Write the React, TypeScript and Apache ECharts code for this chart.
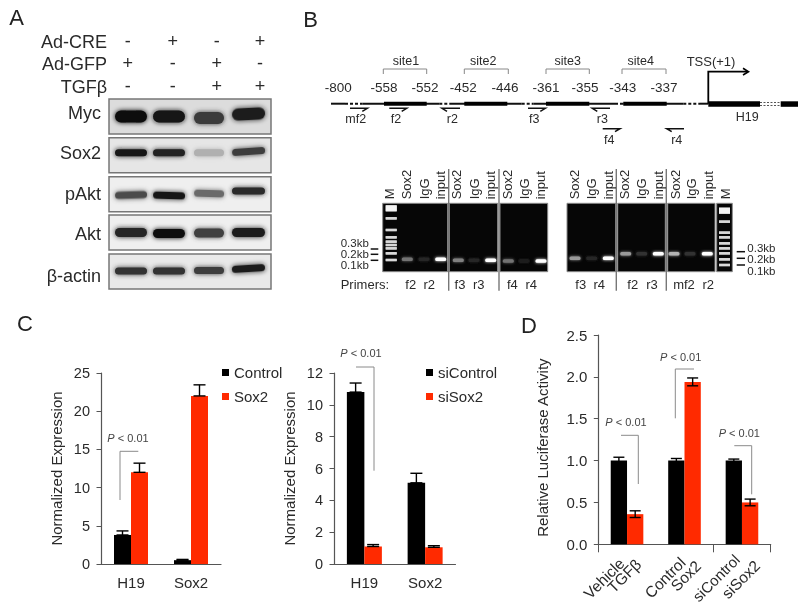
import React, { useEffect, useRef } from "react";
import * as echarts from "echarts";

const FONT = "'Liberation Sans', Arial, sans-serif";
const BLACK = "#000000";
const RED = "#ff2a00";
const AXIS = "#555555";
const TEXT = "#2a2a2a";

// ---- Panel C (left)
const cats = ["H19", "Sox2"];
const controlVals = [3.8, 0.5];
const controlHi = [4.33, 0.6];
const sox2Vals = [12, 22];
const sox2Hi = [13.2, 23.45];
// ---- Panel C (right)
const siControlVals = [10.8, 5.1];
const siControlHi = [11.37, 5.7];
const siSox2Vals = [1.1, 1.05];
const siSox2Hi = [1.22, 1.15];
// ---- Panel D
const dCats = ["Vehicle/TGFβ", "Control/Sox2", "siControl/siSox2"];
const dLabels = ["Vehicle", "TGFβ", "Control", "Sox2", "siControl", "siSox2"];
const dBaseVals = [1.0, 1.0, 1.0];
const dBaseErr = [0.04, 0.025, 0.018];
const dTreatVals = [0.36, 1.94, 0.5];
const dTreatErr = [0.04, 0.047, 0.04];

// ---- Panel A
const lanesLabels = ["Ad-CRE", "Ad-GFP", "TGFβ"];
const signs = [["-", "+", "-", "+"], ["+", "-", "+", "-"], ["-", "-", "+", "+"]];
const blotNames = ["Myc", "Sox2", "pAkt", "Akt", "β-actin"];
const blotShade = [
  ["#0c0c0c", "#141414", "#3a3a3a", "#1c1c1c"],
  ["#161616", "#222222", "#b0b0b0", "#3c3c3c"],
  ["#4c4c4c", "#141414", "#6a6a6a", "#2a2a2a"],
  ["#262626", "#101010", "#404040", "#1e1e1e"],
  ["#303030", "#303030", "#3c3c3c", "#1c1c1c"],
];

// ---- Panel B
const sites = ["site1", "site2", "site3", "site4"];
const posLabels = ["-800", "-558", "-552", "-452", "-446", "-361", "-355", "-343", "-337"];
const gelLanes = ["Sox2", "IgG", "input"];
const gelIntensity = [
  [0.45, 0.15, 1],
  [0.5, 0.15, 1],
  [0.45, 0.12, 1],
  [0.6, 0.15, 1],
  [0.6, 0.2, 1],
  [0.7, 0.2, 1],
];
const primerRow = ["f2", "r2", "f3", "r3", "f4", "r4", "f3", "r4", "f2", "r3", "mf2", "r2"];

const txt = (text: string, x: number, y: number, size: number, align = "center", extra: any = {}) => ({
  type: "text",
  silent: true,
  x,
  y,
  rotation: extra.rotation || 0,
  z: 20,
  style: {
    text,
    x: 0,
    y: 0,
    fontSize: size,
    fontFamily: FONT,
    fill: extra.fill || TEXT,
    align,
    verticalAlign: "middle",
    rich: extra.rich,
  },
});
const ln = (x1: number, y1: number, x2: number, y2: number, stroke: string, lineWidth: number, lineDash?: number[]) => ({
  type: "line",
  silent: true,
  z: 10,
  shape: { x1, y1, x2, y2 },
  style: { stroke, lineWidth, lineDash },
});
const poly = (points: number[][], stroke: string, lineWidth: number) => ({
  type: "polyline",
  silent: true,
  z: 10,
  shape: { points },
  style: { stroke, lineWidth, fill: "none" },
});
const box = (x: number, y: number, width: number, height: number, fill: string, extra: any = {}) => ({
  type: "rect",
  silent: true,
  z: extra.z || 5,
  rotation: extra.rotation || 0,
  originX: x + width / 2,
  originY: y + height / 2,
  shape: { x, y, width, height, r: extra.r || 0 },
  style: {
    fill,
    stroke: extra.stroke,
    lineWidth: extra.lineWidth,
    shadowBlur: extra.blur || 0,
    shadowColor: extra.blur ? fill : undefined,
  },
});
const pval = (x: number, y: number) =>
  txt("{i|P} < 0.01", x, y, 11, "center", {
    fill: "#444",
    rich: { i: { fontStyle: "italic", fontSize: 11, fontFamily: FONT, fill: "#444" } },
  });

function panelA(): any[] {
  const out: any[] = [];
  out.push(txt("A", 16.5, 17, 22, "center", { fill: "#222" }));
  const cols = [127.7, 172.7, 216.7, 260];
  const rowsY = [42, 64, 87];
  lanesLabels.forEach((l, i) => {
    out.push(txt(l, 107, rowsY[i], 18, "right"));
    signs[i].forEach((s, j) => out.push(txt(s, cols[j], rowsY[i] - 1, 18)));
  });
  const tops = [99, 137.7, 176.7, 215, 254];
  const labelY = [113, 152.7, 194, 234, 275.7];
  const bg = ["#dcdcdc", "#e6e6e6", "#efefef", "#efefef", "#e9e9e9"];
  const laneX = [[115, 32], [153, 32], [194, 30], [232, 33]];
  const bandY = [
    [116.5, 116.5, 118, 114],
    [152.7, 152.7, 152.7, 151.5],
    [195, 195.5, 193.5, 191],
    [232.5, 233.5, 233, 232.5],
    [271, 271, 270.5, 268.5],
  ];
  const bandH = [12, 7, 7, 9, 7];
  const tilt = [
    [0, 0, 0, 0.05],
    [0, 0, 0, 0.07],
    [0.03, -0.03, -0.03, 0],
    [0, 0, 0, 0],
    [0, 0, 0, 0.06],
  ];
  blotNames.forEach((n, i) => {
    out.push(txt(n, 101, labelY[i], 18, "right"));
    out.push(box(109, tops[i], 162, 35, bg[i], { stroke: "#777", lineWidth: 1.5, z: 4 }));
    laneX.forEach(([x, w], j) => {
      out.push(
        box(x, bandY[i][j] - bandH[i] / 2, w, bandH[i], blotShade[i][j], {
          r: bandH[i] / 2,
          blur: 5,
          rotation: tilt[i][j],
          z: 6,
        })
      );
    });
  });
  return out;
}

function panelB(): any[] {
  const out: any[] = [];
  out.push(txt("B", 310.5, 19, 22, "center", { fill: "#222" }));
  const Y = 103.7;
  const solid = [[331, 345], [362.7, 439.3], [450, 521.7], [533.3, 615], [623.3, 683.3], [700, 708.3]];
  const dotted = [[345, 362.7], [439.3, 450], [521.7, 533.3], [615, 623.3], [683.3, 700]];
  solid.forEach(([a, b]) => out.push(ln(a, Y, b, Y, "#111", 2)));
  dotted.forEach(([a, b]) => out.push(ln(a, Y, b, Y, "#111", 2, [3, 2])));
  const blocks = [[384, 426.7], [464.3, 507.3], [546, 589.3], [623.3, 666.7]];
  blocks.forEach(([a, b]) => out.push(box(a, Y - 2, b - a, 4, "#000", { z: 11 })));
  out.push(box(708.3, 101.3, 51.7, 5.5, "#000", { z: 11 }));
  out.push(box(780.7, 101.3, 17.3, 5.5, "#000", { z: 11 }));
  out.push(ln(760, 102.5, 780.7, 102.5, "#555", 1, [2, 1.5]));
  out.push(ln(760, 105.5, 780.7, 105.5, "#555", 1, [2, 1.5]));
  const bracket = [[383.3, 426.7], [464.3, 508.3], [546, 589.3], [622, 666]];
  const siteX = [406, 483.3, 567.7, 640.7];
  sites.forEach((s, i) => {
    const [a, b] = bracket[i];
    out.push(poly([[a, 74], [a, 69], [b, 69], [b, 74]], "#888", 1));
    out.push(txt(s, siteX[i], 61, 12.5));
  });
  const posX = [338.3, 384, 425, 463.3, 505, 546, 585, 622.7, 664];
  posLabels.forEach((p, i) => out.push(txt(p, posX[i], 87.3, 13.5)));
  out.push(txt("TSS(+1)", 711, 61.7, 13));
  out.push(poly([[708.3, Y], [708.3, 71.7], [747, 71.7]], "#000", 1.8));
  out.push(poly([[743, 68.3], [748.5, 71.7], [743, 75]], "#000", 1.6));
  out.push(txt("H19", 747.3, 117, 12.5));
  const primers: [string, number, number, number, number, number][] = [
    ["mf2", 350, 367.3, 108.3, 355.7, 118.7],
    ["f2", 389.3, 406.7, 108.3, 396, 118.7],
    ["r2", 460, 442, 108.3, 452.3, 118.7],
    ["f3", 528, 545.3, 108.3, 534.3, 118.7],
    ["r3", 610, 592.3, 108.3, 602.3, 118.7],
    ["f4", 602.7, 620, 128.7, 609.3, 140.3],
    ["r4", 684, 666.7, 128.7, 676.7, 140.3],
  ];
  primers.forEach(([n, a, b, y, lx, ly]) => {
    const d = b > a ? -5 : 5;
    out.push(poly([[a, y], [b, y], [b + d, y + 3]], "#111", 1.5));
    out.push(txt(n, lx, ly, 12.5));
  });

  // gels
  const gelTop = 203.3;
  const gelH = 68.4;
  const gels = [[382.7, 65], [449.3, 48.4], [500, 47.7], [567, 48.7], [617.7, 47.6], [667.7, 47.3], [716.7, 15.6]];
  gels.forEach(([x, w]) => out.push(box(x, gelTop, w, gelH, "#060606", { stroke: "#8a8a8a", lineWidth: 1, z: 4 })));
  [448.7, 499, 616.3, 666.3].forEach((x) => out.push(ln(x, 169, x, 290.7, "#777", 1.4)));
  const markerL = [175, 205, 240, 262, 275, 285, 295, 310, 330];
  const markerR = [182, 215, 248, 262, 280, 295, 310, 328, 345];
  markerL.forEach((y, i) => out.push(box(385.7, y / 3 + 150 - (i === 0 ? 3 : 1.2), 11, i === 0 ? 6 : 2.4, i === 0 ? "#f4f4f4" : "#d8d8d8", { z: 6, blur: 1.5 })));
  markerR.forEach((y, i) => out.push(box(719, y / 3 + 150 - (i === 0 ? 3 : 1.2), 11, i === 0 ? 6 : 2.4, i === 0 ? "#f4f4f4" : "#d8d8d8", { z: 6, blur: 1.5 })));
  const laneXs = [
    [407.3, 424, 440.7],
    [458.3, 474, 490.7],
    [508.3, 524, 541],
    [575, 591.7, 608.3],
    [625.7, 641.7, 658.3],
    [674, 690, 707.3],
  ];
  const bandYs = [259.3, 260.3, 261, 258.3, 253.7, 253.7];
  gelIntensity.forEach((g, i) =>
    g.forEach((v, j) => {
      const c = Math.round(v * 255);
      out.push(box(laneXs[i][j] - 5.5, bandYs[i] - 1.8, 11, 3.6, `rgb(${c},${c},${c})`, { z: 6, blur: 3, r: 1.5 }));
    })
  );
  const rotLabel = (t: string, x: number) => txt(t, x, 199.3, 13, "left", { rotation: Math.PI / 2 });
  out.push(rotLabel("M", 389));
  out.push(rotLabel("M", 725));
  const labelXs = [
    [406.7, 424, 440.7],
    [456.7, 474, 490.7],
    [507.3, 524, 540.7],
    [574, 591.7, 608.3],
    [624, 641.7, 658.3],
    [675, 691.7, 708.3],
  ];
  labelXs.forEach((row) => row.forEach((x, j) => out.push(rotLabel(gelLanes[j], x))));
  ["0.3kb", "0.2kb", "0.1kb"].forEach((t, i) => {
    out.push(txt(t, 340.7, [242.7, 254, 265.3][i], 11.5, "left"));
    out.push(ln(370.7, [249, 254.3, 260.3][i], 378.3, [249, 254.3, 260.3][i], "#111", 1.5));
    out.push(txt(t, 747.3, [247.7, 259.3, 271][i], 11.5, "left"));
    out.push(ln(736.7, [251.7, 258.3, 265][i], 745, [251.7, 258.3, 265][i], "#111", 1.5));
  });
  out.push(txt("Primers:", 340.7, 284, 13, "left"));
  const primerX = [410.7, 429.3, 460, 478.7, 512.3, 531.3, 580.7, 599.3, 632.7, 652, 684, 708.3];
  primerRow.forEach((p, i) => out.push(txt(p, primerX[i], 284, 13)));
  return out;
}

function panelsCD(): any[] {
  const gray = "#8a8a8a";
  const anchors = [
    [621.7, 560.7],
    [638.3, 561.7],
    [682.7, 560],
    [698.3, 563.3],
    [737, 557],
    [757.3, 563],
  ];
  return [
    txt("C", 25, 323, 22, "center", { fill: "#222" }),
    txt("D", 529, 325, 22, "center", { fill: "#222" }),
    poly([[120, 500], [120, 451.3], [138.3, 451.3]], gray, 1),
    pval(128, 438),
    poly([[356, 367], [374, 367], [374, 470.7]], gray, 1),
    pval(361, 353),
    poly([[621, 435.3], [638.3, 435.3], [638.3, 484]], gray, 1),
    pval(626, 422),
    poly([[694, 369], [675.3, 369], [675.3, 418.3]], gray, 1),
    pval(680.7, 356.7),
    poly([[734.3, 445.7], [751.7, 445.7], [751.7, 494.3]], gray, 1),
    pval(739.3, 432.7),
    ...dLabels.map((l, i) => txt(l, anchors[i][0], anchors[i][1], i === 4 ? 15 : 15.5, "right", { rotation: Math.PI / 4 })),
  ];
}

const errSeries = (gridIdx: number, data: number[][], barW: number, capW: number) => ({
  type: "custom",
  xAxisIndex: gridIdx,
  yAxisIndex: gridIdx,
  silent: true,
  z: 5,
  encode: { x: 0, y: [1, 2] },
  data,
  renderItem: (_p: any, api: any) => {
    const hi = api.coord([api.value(0), api.value(1)]);
    const lo = api.coord([api.value(0), api.value(2)]);
    const x = hi[0] + api.value(3) * (barW / 2);
    const style = { stroke: "#000", lineWidth: 1.4, fill: "none" };
    return {
      type: "group",
      children: [
        { type: "line", shape: { x1: x, y1: hi[1], x2: x, y2: lo[1] }, style },
        { type: "line", shape: { x1: x - capW / 2, y1: hi[1], x2: x + capW / 2, y2: hi[1] }, style },
        { type: "line", shape: { x1: x - capW / 2, y1: lo[1], x2: x + capW / 2, y2: lo[1] }, style },
      ],
    };
  },
});

const upErr = (vals: number[], hi: number[], side: number) => vals.map((v, i) => [i, hi[i], v, side]);
const bothErr = (vals: number[], e: number[], side: number) => vals.map((v, i) => [i, v + e[i], v - e[i], side]);

const xAxisBase = (gridIndex: number, data: string[]) => ({
  type: "category",
  gridIndex,
  data,
  axisLine: { show: true, lineStyle: { color: AXIS, width: 1.2 } },
  axisTick: { show: false },
  axisLabel: { color: TEXT, fontSize: 15, fontFamily: FONT, margin: 11, interval: 0 },
});
const yAxisBase = (gridIndex: number, max: number, interval: number, name: string, gap: number, size: number) => ({
  type: "value",
  gridIndex,
  min: 0,
  max,
  interval,
  name,
  nameLocation: "middle",
  nameGap: gap,
  nameTextStyle: { color: TEXT, fontSize: 15, fontFamily: FONT },
  axisLine: { show: true, lineStyle: { color: AXIS, width: 1.2 } },
  axisTick: { show: true, length: 4.5, lineStyle: { color: AXIS } },
  axisLabel: { color: TEXT, fontSize: size, fontFamily: FONT, margin: 11 },
  splitLine: { show: false },
});
const bar = (name: string, grid: number, data: number[], color: string, width: number) => ({
  type: "bar",
  name,
  xAxisIndex: grid,
  yAxisIndex: grid,
  data,
  barWidth: width,
  barGap: "0%",
  itemStyle: { color },
  silent: true,
});
const legend = (names: string[], left: number) => ({
  data: names,
  orient: "vertical",
  left,
  top: 365,
  itemWidth: 7,
  itemHeight: 7,
  itemGap: 9,
  icon: "rect",
  selectedMode: false,
  textStyle: { color: TEXT, fontSize: 15, fontFamily: FONT },
  padding: 0,
});

export default function App() {
  const ref = useRef<HTMLDivElement>(null);
  useEffect(() => {
    const chart = echarts.init(ref.current!, undefined, { renderer: "svg" });
    const yd = yAxisBase(2, 2.5, 0.5, "Relative Luciferase Activity", 48, 15);
    (yd.nameTextStyle as any).padding = [0, 0, 0, -16];
    (yd.axisLabel as any).formatter = (v: number) => v.toFixed(1);
    const xd = xAxisBase(2, dCats);
    xd.axisTick = { show: true, length: 8, lineStyle: { color: AXIS } } as any;
    (xd.axisLabel as any) = { show: false };
    chart.setOption({
      animation: false,
      backgroundColor: "#ffffff",
      textStyle: { fontFamily: FONT },
      grid: [
        { left: 101, top: 373, width: 120, height: 191, outerBoundsMode: "none" },
        { left: 334, top: 373, width: 121.5, height: 191, outerBoundsMode: "none" },
        { left: 598.3, top: 335, width: 172.4, height: 209.3, outerBoundsMode: "none" },
      ],
      xAxis: [xAxisBase(0, cats), xAxisBase(1, cats), xd],
      yAxis: [
        yAxisBase(0, 25, 5, "Normalized Expression", 37, 14.5),
        yAxisBase(1, 12, 2, "Normalized Expression", 37, 14.5),
        yd,
      ],
      legend: [legend(["Control", "Sox2"], 222), legend(["siControl", "siSox2"], 426)],
      series: [
        bar("Control", 0, controlVals, BLACK, 17),
        bar("Sox2", 0, sox2Vals, RED, 17),
        errSeries(0, upErr(controlVals, controlHi, -1), 17, 12),
        errSeries(0, upErr(sox2Vals, sox2Hi, 1), 17, 12),
        bar("siControl", 1, siControlVals, BLACK, 17.5),
        bar("siSox2", 1, siSox2Vals, RED, 17.5),
        errSeries(1, upErr(siControlVals, siControlHi, -1), 17.5, 12),
        errSeries(1, upErr(siSox2Vals, siSox2Hi, 1), 17.5, 12),
        bar("Baseline", 2, dBaseVals, BLACK, 16.3),
        bar("Treated", 2, dTreatVals, RED, 16.3),
        errSeries(2, bothErr(dBaseVals, dBaseErr, -1), 16.3, 11),
        errSeries(2, bothErr(dTreatVals, dTreatErr, 1), 16.3, 11),
      ],
      graphic: { elements: [...panelA(), ...panelB(), ...panelsCD()] },
    });
    return () => chart.dispose();
  }, []);
  return (
    <div
      ref={ref}
      style={{ position: "absolute", left: 0, top: 0, width: 800, height: 607, filter: "blur(0.5px)" }}
    />
  );
}
